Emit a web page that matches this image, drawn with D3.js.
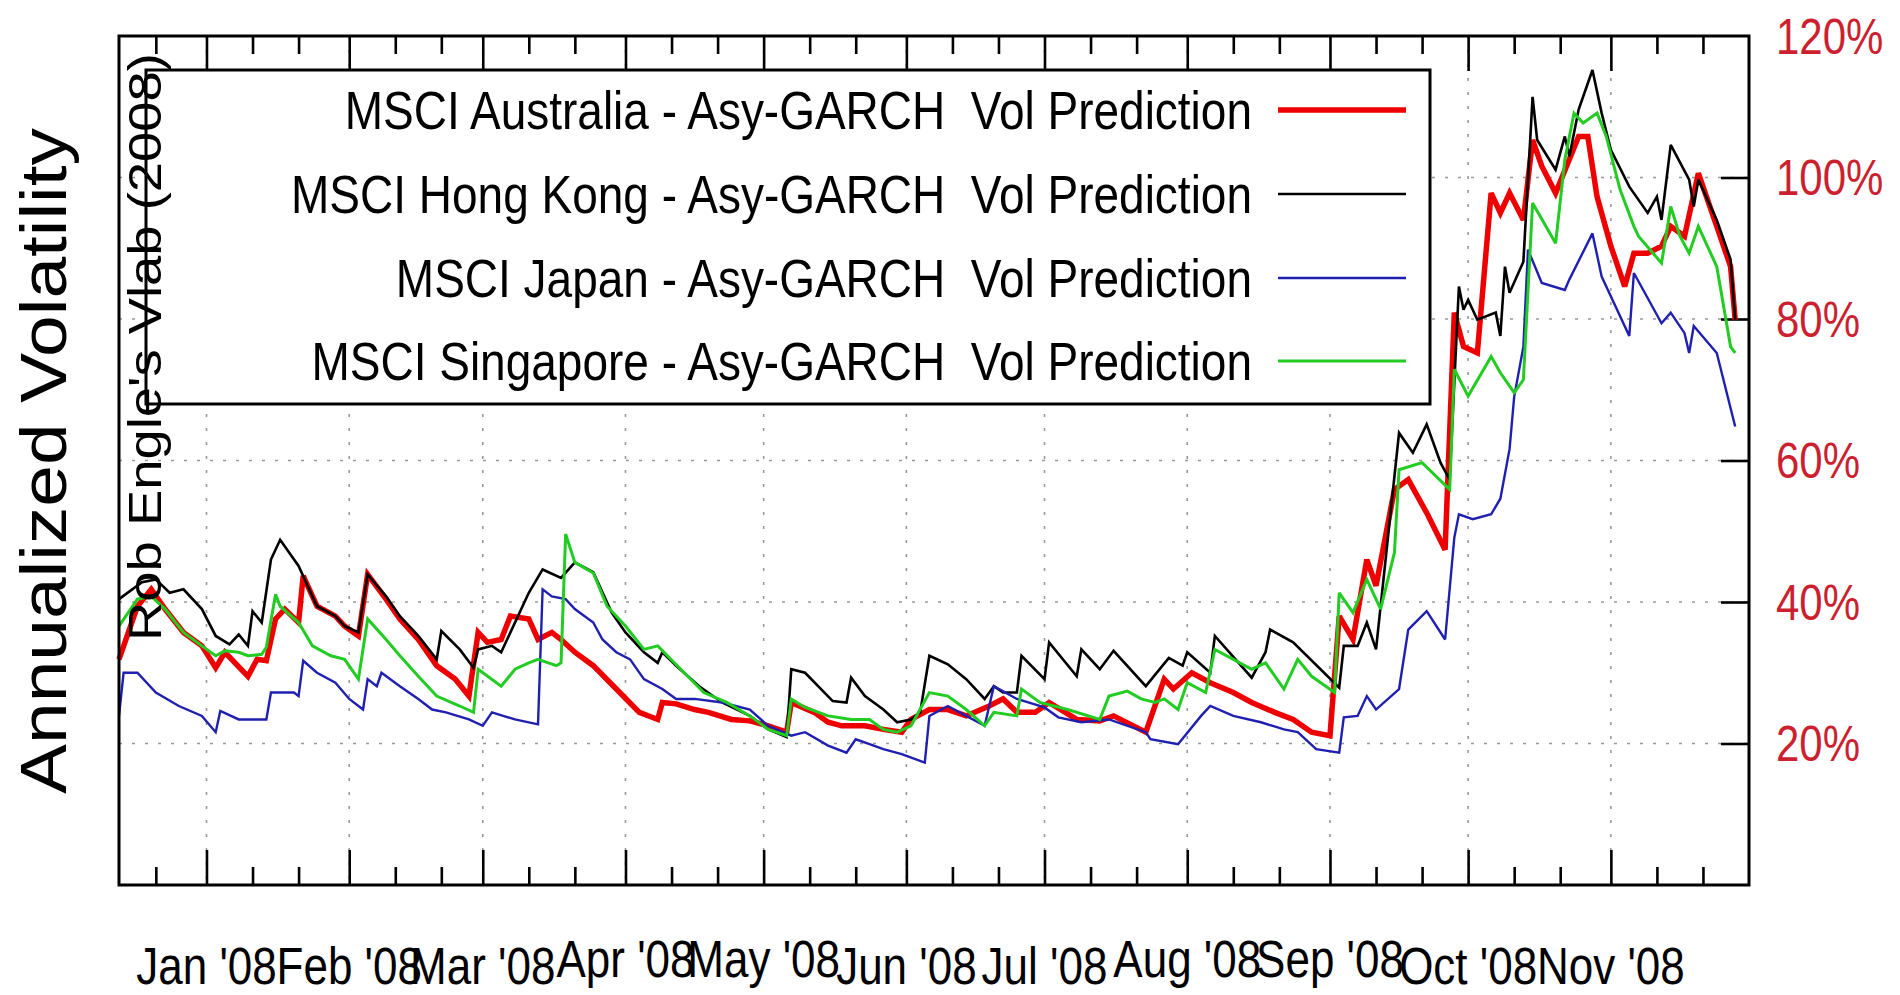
<!DOCTYPE html>
<html><head><meta charset="utf-8">
<script src="https://cdn.jsdelivr.net/npm/d3@7"></script>
<style>html,body{margin:0;padding:0;background:#fff;overflow:hidden}</style>
</head><body>
<svg id="chart" width="1900" height="995"></svg>
<script>
// ---------- data ----------
const seriesNames = [
  "MSCI Australia - Asy-GARCH  Vol Prediction",
  "MSCI Hong Kong - Asy-GARCH  Vol Prediction",
  "MSCI Japan - Asy-GARCH  Vol Prediction",
  "MSCI Singapore - Asy-GARCH  Vol Prediction"
];
const yAxisTitle = "Annualized Volatility";
const watermark = "Rob Engle's Vlab (2008)";
const monthTicks = ["2008-01-01","2008-02-01","2008-03-01","2008-04-01","2008-05-01","2008-06-01","2008-07-01","2008-08-01","2008-09-01","2008-10-01","2008-11-01"];
const monthLabels = ["Jan '08","Feb '08","Mar '08","Apr '08","May '08","Jun '08","Jul '08","Aug '08","Sep '08","Oct '08","Nov '08"];
const yTicks = [20,40,60,80,100,120];
const yTickLabels = ["20%","40%","60%","80%","100%","120%"];
const xDomain = ["2007-12-13","2008-12-01"];

const ausDates = ["2007-12-13","2007-12-17","2007-12-20","2007-12-23","2007-12-27","2007-12-31","2008-01-03","2008-01-05","2008-01-10","2008-01-12","2008-01-14","2008-01-16","2008-01-18","2008-01-21","2008-01-22","2008-01-25","2008-01-29","2008-01-31","2008-02-03","2008-02-05","2008-02-09","2008-02-12","2008-02-16","2008-02-20","2008-02-24","2008-02-27","2008-02-29","2008-03-02","2008-03-05","2008-03-07","2008-03-11","2008-03-13","2008-03-16","2008-03-18","2008-03-21","2008-03-25","2008-03-30","2008-04-04","2008-04-08","2008-04-09","2008-04-12","2008-04-16","2008-04-19","2008-04-24","2008-04-28","2008-05-02","2008-05-06","2008-05-07","2008-05-12","2008-05-15","2008-05-18","2008-05-23","2008-05-27","2008-05-31","2008-06-02","2008-06-06","2008-06-10","2008-06-14","2008-06-19","2008-06-22","2008-06-25","2008-06-29","2008-07-02","2008-07-08","2008-07-13","2008-07-16","2008-07-23","2008-07-27","2008-07-29","2008-08-02","2008-08-06","2008-08-11","2008-08-15","2008-08-20","2008-08-24","2008-08-28","2008-09-01","2008-09-03","2008-09-06","2008-09-09","2008-09-11","2008-09-15","2008-09-18","2008-09-22","2008-09-26","2008-09-28","2008-09-30","2008-10-03","2008-10-06","2008-10-08","2008-10-10","2008-10-13","2008-10-15","2008-10-17","2008-10-20","2008-10-25","2008-10-27","2008-10-29","2008-11-01","2008-11-04","2008-11-06","2008-11-09","2008-11-12","2008-11-14","2008-11-17","2008-11-20","2008-11-24","2008-11-27","2008-11-28"];
const ausVals = [31.9,39.4,41.8,39.0,35.7,33.8,30.7,32.9,29.5,31.9,31.7,37.6,39.0,37.1,43.7,39.4,38.0,36.6,35.2,43.9,40.4,37.6,34.7,31.0,29.1,26.7,35.7,34.3,34.7,38.0,37.6,34.7,35.7,34.7,32.9,31.0,27.7,24.4,23.4,25.8,25.6,24.8,24.4,23.4,23.2,22.5,21.6,25.8,24.4,23.0,22.5,22.5,22.0,21.6,23.4,24.8,24.8,23.9,25.3,26.3,24.4,24.4,25.8,23.4,23.2,23.9,21.6,29.1,27.7,30.0,28.6,27.2,25.8,24.4,23.4,21.6,21.1,38.0,34.7,46.0,42.3,55.9,57.3,52.6,47.4,80.9,76.1,75.2,97.8,95.0,97.8,94.0,105.3,101.6,97.8,105.8,105.8,97.3,90.3,84.6,89.3,89.3,90.3,93.1,91.7,100.6,93.1,87.4,79.9];

const hkDates = ["2007-12-13","2007-12-18","2007-12-21","2007-12-24","2007-12-27","2007-12-31","2008-01-03","2008-01-06","2008-01-08","2008-01-10","2008-01-11","2008-01-13","2008-01-15","2008-01-17","2008-01-21","2008-01-25","2008-01-29","2008-01-31","2008-02-03","2008-02-05","2008-02-09","2008-02-12","2008-02-16","2008-02-20","2008-02-21","2008-02-25","2008-02-28","2008-02-29","2008-03-03","2008-03-05","2008-03-11","2008-03-14","2008-03-18","2008-03-21","2008-03-25","2008-03-29","2008-04-01","2008-04-05","2008-04-08","2008-04-09","2008-04-12","2008-04-17","2008-04-22","2008-04-28","2008-05-02","2008-05-06","2008-05-07","2008-05-10","2008-05-16","2008-05-19","2008-05-20","2008-05-23","2008-05-27","2008-05-30","2008-06-02","2008-06-04","2008-06-06","2008-06-10","2008-06-14","2008-06-18","2008-06-20","2008-06-22","2008-06-25","2008-06-26","2008-07-01","2008-07-02","2008-07-08","2008-07-09","2008-07-13","2008-07-16","2008-07-23","2008-07-28","2008-07-31","2008-08-01","2008-08-06","2008-08-07","2008-08-15","2008-08-18","2008-08-19","2008-08-24","2008-09-03","2008-09-04","2008-09-07","2008-09-09","2008-09-11","2008-09-16","2008-09-19","2008-09-22","2008-09-25","2008-09-27","2008-09-29","2008-09-30","2008-10-01","2008-10-03","2008-10-07","2008-10-08","2008-10-09","2008-10-10","2008-10-13","2008-10-15","2008-10-16","2008-10-20","2008-10-22","2008-10-23","2008-10-25","2008-10-28","2008-10-30","2008-11-01","2008-11-05","2008-11-09","2008-11-11","2008-11-12","2008-11-14","2008-11-18","2008-11-19","2008-11-20","2008-11-24","2008-11-27","2008-11-28"];
const hkVals = [40.4,42.8,43.2,41.3,41.8,39.0,35.2,34.0,35.4,33.8,38.7,37.1,46.0,48.8,45.1,39.4,38.0,36.6,35.7,43.9,40.8,38.0,35.2,31.9,35.9,33.3,30.7,33.3,33.8,32.9,41.3,44.6,43.4,45.6,44.2,38.5,35.7,32.9,31.4,32.9,31.0,28.1,25.8,23.9,22.0,20.9,30.5,30.0,26.0,25.8,29.3,26.7,24.8,23.0,23.4,24.4,32.4,31.2,29.1,26.3,28.1,27.2,27.2,32.4,29.1,34.3,29.5,33.3,30.5,33.1,28.1,32.1,31.0,32.9,30.0,35.2,29.3,32.9,36.1,34.3,27.9,33.8,33.8,37.1,33.3,63.9,61.1,65.1,59.7,57.3,84.6,81.3,82.7,79.9,80.9,77.6,87.4,83.7,88.1,111.4,105.3,101.1,105.8,103.0,109.6,115.2,109.1,103.9,98.7,95.0,97.3,94.0,104.6,99.7,95.9,99.7,94.0,88.4,79.9];

const jpnDates = ["2007-12-13","2007-12-14","2007-12-17","2007-12-21","2007-12-26","2007-12-31","2008-01-03","2008-01-04","2008-01-08","2008-01-14","2008-01-15","2008-01-20","2008-01-21","2008-01-22","2008-01-25","2008-01-29","2008-02-01","2008-02-04","2008-02-05","2008-02-07","2008-02-08","2008-02-12","2008-02-16","2008-02-19","2008-02-22","2008-02-27","2008-03-01","2008-03-03","2008-03-08","2008-03-13","2008-03-14","2008-03-16","2008-03-19","2008-03-21","2008-03-25","2008-03-27","2008-03-30","2008-04-02","2008-04-05","2008-04-09","2008-04-12","2008-04-16","2008-04-22","2008-04-28","2008-05-02","2008-05-07","2008-05-10","2008-05-15","2008-05-19","2008-05-21","2008-05-24","2008-05-27","2008-05-31","2008-06-05","2008-06-06","2008-06-10","2008-06-14","2008-06-18","2008-06-20","2008-06-25","2008-07-01","2008-07-04","2008-07-09","2008-07-15","2008-07-23","2008-07-24","2008-07-30","2008-08-04","2008-08-06","2008-08-11","2008-08-17","2008-08-22","2008-08-25","2008-08-29","2008-09-03","2008-09-04","2008-09-07","2008-09-09","2008-09-11","2008-09-16","2008-09-18","2008-09-22","2008-09-26","2008-09-28","2008-09-29","2008-10-02","2008-10-06","2008-10-08","2008-10-10","2008-10-11","2008-10-13","2008-10-14","2008-10-17","2008-10-22","2008-10-23","2008-10-28","2008-10-30","2008-11-05","2008-11-06","2008-11-12","2008-11-14","2008-11-17","2008-11-18","2008-11-19","2008-11-24","2008-11-28"];
const jpnVals = [23.9,30.0,30.0,27.2,25.3,23.9,21.6,24.6,23.4,23.4,27.2,27.2,26.7,31.7,30.0,28.6,26.3,24.8,29.1,28.1,30.0,28.1,26.3,24.8,24.4,23.4,22.5,24.4,23.4,22.7,41.8,40.8,40.4,39.0,37.1,34.7,32.9,31.9,29.1,27.7,26.3,26.3,25.8,24.8,22.5,21.1,21.6,19.7,18.7,20.6,19.9,19.2,18.5,17.3,23.9,25.3,23.9,22.5,28.1,26.3,25.1,23.7,23.0,23.4,21.6,20.6,19.9,23.9,25.3,23.9,23.0,22.0,21.6,19.2,18.7,23.7,23.9,26.7,24.8,27.7,36.1,38.7,34.7,49.1,52.4,51.7,52.4,54.6,61.6,69.0,76.1,89.8,85.1,84.1,85.6,92.1,86.0,77.6,86.5,79.4,80.9,78.0,75.2,79.0,75.2,64.8];

const sgpDates = ["2007-12-13","2007-12-17","2007-12-20","2007-12-23","2007-12-27","2007-12-31","2008-01-03","2008-01-05","2008-01-08","2008-01-10","2008-01-13","2008-01-14","2008-01-16","2008-01-17","2008-01-21","2008-01-24","2008-01-28","2008-01-31","2008-02-03","2008-02-05","2008-02-09","2008-02-12","2008-02-16","2008-02-20","2008-02-25","2008-02-28","2008-02-29","2008-03-05","2008-03-08","2008-03-11","2008-03-13","2008-03-17","2008-03-18","2008-03-19","2008-03-21","2008-03-25","2008-03-28","2008-04-01","2008-04-05","2008-04-08","2008-04-13","2008-04-18","2008-04-23","2008-04-28","2008-05-02","2008-05-06","2008-05-07","2008-05-10","2008-05-15","2008-05-20","2008-05-24","2008-05-27","2008-05-30","2008-06-02","2008-06-06","2008-06-10","2008-06-14","2008-06-18","2008-06-20","2008-06-25","2008-06-26","2008-06-30","2008-07-06","2008-07-13","2008-07-15","2008-07-19","2008-07-22","2008-07-25","2008-07-27","2008-07-30","2008-08-01","2008-08-05","2008-08-07","2008-08-11","2008-08-15","2008-08-18","2008-08-22","2008-08-25","2008-08-28","2008-09-02","2008-09-03","2008-09-06","2008-09-09","2008-09-12","2008-09-15","2008-09-16","2008-09-21","2008-09-27","2008-09-28","2008-10-01","2008-10-06","2008-10-08","2008-10-11","2008-10-13","2008-10-15","2008-10-20","2008-10-22","2008-10-24","2008-10-26","2008-10-29","2008-10-31","2008-11-03","2008-11-06","2008-11-07","2008-11-12","2008-11-14","2008-11-16","2008-11-18","2008-11-20","2008-11-24","2008-11-27","2008-11-28"];
const sgpVals = [36.6,40.4,40.8,39.0,35.7,33.8,32.4,33.1,32.9,32.4,32.6,33.6,41.1,39.4,37.1,33.8,32.4,31.9,29.1,37.6,34.7,32.4,29.5,26.7,25.3,24.4,30.5,28.1,30.5,31.4,31.9,31.0,31.4,49.6,45.6,44.1,39.4,36.6,33.3,33.8,30.5,27.2,25.8,23.9,22.0,21.1,26.3,25.1,23.9,23.4,23.4,22.0,21.6,22.5,27.2,26.7,24.8,22.5,24.4,23.9,27.7,25.8,24.8,23.4,26.7,27.4,26.3,25.8,26.3,24.8,28.6,27.2,33.3,31.9,30.5,31.4,27.7,31.9,29.5,27.2,41.3,38.5,43.2,39.0,47.0,58.7,59.7,55.9,72.9,69.1,74.7,72.4,69.6,71.4,96.4,90.7,102.5,109.1,107.7,109.1,105.8,98.3,93.1,91.7,87.9,95.9,91.7,89.3,93.1,87.4,76.1,75.2];

const seriesColors = ["#ee0000","#000000","#1f1fb0","#22cc22"];
const seriesWidths = [5.5,2.6,2.4,3];

// ---------- layout ----------
const svg = d3.select("#chart");
const L = 119, R = 1749, T = 36, B = 885;
const STRETCH = 1.17;
const FONT = "'Liberation Sans', Arial, Helvetica, sans-serif";
const parse = d3.utcParse("%Y-%m-%d");
const x = d3.scaleUtc().domain(xDomain.map(parse)).range([L, R]);
const y = d3.scaleLinear().domain([0, 120]).range([B, T]);

svg.append("rect").attr("width",1900).attr("height",995).attr("fill","#fff");

// grid
const majorDates = monthTicks.map(parse);
const gridG = svg.append("g");
gridG.selectAll("line.vg").data(majorDates).join("line")
  .attr("x1", d => x(d)).attr("x2", d => x(d)).attr("y1", T).attr("y2", B)
  .attr("stroke","#999").attr("stroke-width",1.6).attr("stroke-dasharray","3,11");
gridG.selectAll("line.hg").data(yTicks.filter(v => v < 120)).join("line")
  .attr("x1", L).attr("x2", R).attr("y1", d => y(d)).attr("y2", d => y(d))
  .attr("stroke","#999").attr("stroke-width",1.6).attr("stroke-dasharray","3,10");

// minor tick positions (day 11 & 21 of each month)
const minorDates = [];
d3.utcMonth.range(parse("2007-12-01"), parse("2008-12-01")).forEach(m => {
  [10, 20].forEach(k => { const d = d3.utcDay.offset(m, k); if (d > x.domain()[0] && d < x.domain()[1]) minorDates.push(d); });
});

function tickAxis(axis, g) {
  g.call(axis);
  g.select(".domain").remove();
  g.selectAll(".tick line").attr("stroke","#000").attr("stroke-width",2.6);
  g.selectAll(".tick text").remove();
}
tickAxis(d3.axisBottom(x).tickValues(majorDates).tickSize(-35).tickFormat(""), svg.append("g").attr("transform",`translate(0,${B})`));
tickAxis(d3.axisBottom(x).tickValues(minorDates).tickSize(-18).tickFormat(""), svg.append("g").attr("transform",`translate(0,${B})`));
tickAxis(d3.axisTop(x).tickValues(majorDates).tickSize(-35).tickFormat(""), svg.append("g").attr("transform",`translate(0,${T})`));
tickAxis(d3.axisTop(x).tickValues(minorDates).tickSize(-18).tickFormat(""), svg.append("g").attr("transform",`translate(0,${T})`));
tickAxis(d3.axisRight(y).tickValues(yTicks.filter(v => v < 120)).tickSize(-28).tickFormat(""), svg.append("g").attr("transform",`translate(${R},0)`));

// series
const seriesData = [
  d3.zip(ausDates, ausVals),
  d3.zip(hkDates, hkVals),
  d3.zip(jpnDates, jpnVals),
  d3.zip(sgpDates, sgpVals)
];
const line = d3.line().x(d => x(parse(d[0]))).y(d => y(d[1]));
seriesData.forEach((s, i) => {
  svg.append("path").datum(s).attr("d", line)
    .attr("fill","none").attr("stroke", seriesColors[i]).attr("stroke-width", seriesWidths[i])
    .attr("stroke-linejoin","miter").attr("stroke-miterlimit",3);
});

// legend
const legX0 = 146, legX1 = 1430, legY0 = 70, legY1 = 404;
svg.append("rect").attr("x",legX0).attr("y",legY0).attr("width",legX1-legX0).attr("height",legY1-legY0)
  .attr("fill","#fff").attr("stroke","#000").attr("stroke-width",3);
const legRows = [110, 194, 278, 361];
seriesNames.forEach((name, i) => {
  svg.append("text").text(name)
    .attr("transform",`translate(1252,${legRows[i] + 19}) scale(1,${STRETCH})`)
    .attr("text-anchor","end").attr("font-family",FONT).attr("font-size",46)
    .style("white-space","pre").attr("fill","#000");
  svg.append("line").attr("x1",1278).attr("x2",1406).attr("y1",legRows[i]).attr("y2",legRows[i])
    .attr("stroke",seriesColors[i]).attr("stroke-width",seriesWidths[i]);
});

// watermark
svg.append("text").text(watermark)
  .attr("transform",`translate(161,641) scale(1,${STRETCH}) rotate(-90)`)
  .attr("text-anchor","start").attr("font-family",FONT).attr("font-size",46.5).attr("fill","#000");

// frame
svg.append("rect").attr("x",L).attr("y",T).attr("width",R-L).attr("height",B-T)
  .attr("fill","none").attr("stroke","#000").attr("stroke-width",3);

// y tick labels (right, red)
yTicks.forEach((v, i) => {
  svg.append("text").text(yTickLabels[i])
    .attr("transform",`translate(1776,${y(v) + 17.6}) scale(1,${STRETCH})`)
    .attr("font-family",FONT).attr("font-size",42).attr("fill","#cc1f2f");
});

// x labels
monthLabels.forEach((lab, i) => {
  const base = /[gjpqy]/.test(lab) ? 977 : 984;
  svg.append("text").text(lab)
    .attr("transform",`translate(${x(majorDates[i])},${base}) scale(1,${STRETCH})`)
    .attr("text-anchor","middle").attr("font-family",FONT).attr("font-size",44).attr("fill","#000");
});

// y axis title
svg.append("text").text(yAxisTitle)
  .attr("transform",`translate(66,461) scale(1,${STRETCH}) rotate(-90)`)
  .attr("text-anchor","middle").attr("font-family",FONT).attr("font-size",64).attr("fill","#000");
</script>
</body></html>
